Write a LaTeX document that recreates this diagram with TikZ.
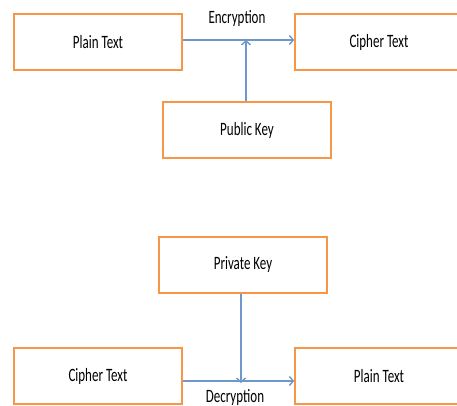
\documentclass[tikz,border=0pt]{standalone}
\usepackage{fontspec}
\setmainfont{Carlito}
\usetikzlibrary{arrows.meta}
\definecolor{boxorange}{HTML}{F79646}
\definecolor{linkblue}{HTML}{6E97CC}
\newcommand{\tallt}[1]{\scalebox{1}[1.45]{#1}}
\tikzset{
  keybox/.style={draw=boxorange, line width=1.5pt, fill=white, minimum width=168pt, minimum height=56pt, inner sep=0pt, font=\fontsize{13pt}{15pt}\selectfont},
  link/.style={draw=linkblue, line width=1.8pt, -{Straight Barb[length=4pt,width=9pt,line width=1.4pt]}},
  lbl/.style={font=\fontsize{13pt}{15pt}\selectfont, inner sep=0pt}
}
\begin{document}
\begin{tikzpicture}[x=1pt,y=-1pt]
\useasboundingbox (0,0) rectangle (457,406);
\clip (0,0) rectangle (457,406);
% encryption
\node[keybox] (p1) at (98,42) {\tallt{Plain Text}};
\node[keybox] (c1) at (379,42) {\tallt{Cipher Text}};
\node[keybox] (pub) at (247,130) {\tallt{Public Key}};
\coordinate (j1) at (246,40);
\draw[link] (p1.east |- j1) -- (c1.west |- j1);
\draw[link] (pub.north -| j1) -- (j1);
\node[lbl] (enc) at (237,19) {\tallt{Encryption}};
% decryption
\node[keybox] (priv) at (243,265) {\tallt{Private Key}};
\node[keybox] (c2) at (98,376) {\tallt{Cipher Text}};
\node[keybox] (p2) at (379,376) {\tallt{Plain Text}};
\coordinate (j2) at (241,381);
\draw[link] (c2.east |- j2) -- (p2.west |- j2);
\draw[link] (priv.south -| j2) -- ([yshift=-2pt]j2);
\node[lbl] (dec) at (235,397) {\tallt{Decryption}};
\end{tikzpicture}
\end{document}
